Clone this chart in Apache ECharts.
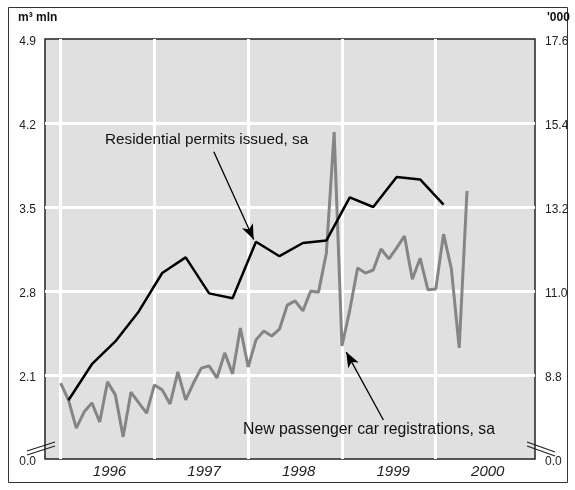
<!DOCTYPE html>
<html><head><meta charset="utf-8">
<script src="https://cdn.jsdelivr.net/npm/echarts@6/dist/echarts.min.js"></script>
<style>html,body{margin:0;padding:0;background:#fff}#c{width:575px;height:490px}</style>
</head><body><div id="c"></div>
<script>
// x = month index, 0 = January 1996
const yearLabels = ['1996', '1997', '1998', '1999', '2000'];
const yearLabelPos = [6.25, 18.35, 30.45, 42.55, 54.65];
const yearStarts = [0, 12, 24, 36, 48];

// Residential permits issued, sa (m³ mln, quarterly, left axis)
const permitMonths = [1, 4, 7, 10, 13, 16, 19, 22, 25, 28, 31, 34, 37, 40, 43, 46, 49];
const permitValues = [1.89, 2.19, 2.38, 2.63, 2.95, 3.08, 2.78, 2.74, 3.21, 3.09, 3.20, 3.22, 3.58, 3.50, 3.75, 3.73, 3.52];

// New passenger car registrations, sa ('000, monthly, right axis)
const carMonths = [0,1,2,3,4,5,6,7,8,9,10,11,12,13,14,15,16,17,18,19,20,21,22,23,24,25,26,27,28,29,30,31,32,33,34,35,36,37,38,39,40,41,42,43,44,45,46,47,48,49,50,51,52];
const carValues = [8.59, 8.15, 7.41, 7.83, 8.07, 7.57, 8.62, 8.28, 7.18, 8.35, 8.07, 7.80,
  8.54, 8.41, 8.04, 8.88, 8.15, 8.59, 8.98, 9.04, 8.72, 9.38, 8.83, 10.03,
  9.01, 9.72, 9.95, 9.82, 10.00, 10.63, 10.74, 10.48, 11.00, 10.97, 11.99, 15.16,
  9.56, 10.50, 11.60, 11.47, 11.55, 12.10, 11.84, 12.13, 12.44, 11.31, 11.86, 11.03,
  11.05, 12.49, 11.58, 9.51, 13.62];

// Axis ticks (the lowest tick is drawn as 0.0 because of the axis break)
const leftTicks = [1.4, 2.1, 2.8, 3.5, 4.2, 4.9];
const rightTicks = [6.6, 8.8, 11.0, 13.2, 15.4, 17.6];

const permitData = permitMonths.map((m, i) => [m, permitValues[i]]);
const carData = carMonths.map((m, i) => [m, carValues[i]]);

const chart = echarts.init(document.getElementById('c'), null, {renderer: 'canvas'});
const FONT = '"Liberation Sans", Arial, sans-serif';

function tickFmt(ticks) {
  return function (v) {
    if (Math.abs(v - ticks[0]) < 1e-6) return '0.0';
    return '{t|' + v.toFixed(1) + '}';
  };
}
function tickFmt0(ticks) {
  const f = tickFmt(ticks);
  return v => { const s = f(v); return s === '0.0' ? '{t|0.0}' : s; };
}
const tickRich = {t: {fontFamily: FONT, fontSize: 12, color: '#222', padding: [6, 0, 0, 0]}};

chart.setOption({
  animation: false,
  backgroundColor: '#fff',
  grid: {
    left: 45, right: 40, top: 39, bottom: 31,
    show: true, backgroundColor: '#e0e0e0', borderColor: '#222', borderWidth: 1.5, z: 0
  },
  xAxis: {
    type: 'value', min: -2, max: 60.7,
    axisLine: {show: false}, axisTick: {show: false}, splitLine: {show: false},
    axisLabel: {
      customValues: yearLabelPos,
      formatter: v => yearLabels[yearLabelPos.indexOf(v)] || '',
      fontFamily: FONT, fontSize: 15, fontStyle: 'italic', color: '#222', margin: 5
    }
  },
  yAxis: [{
    type: 'value', min: leftTicks[0], max: leftTicks[leftTicks.length - 1], interval: 0.7,
    axisLine: {show: false}, axisTick: {show: false},
    splitLine: {show: true, showMinLine: false, showMaxLine: false, lineStyle: {color: '#fff', width: 3}},
    axisLabel: {formatter: tickFmt0(leftTicks), rich: tickRich, margin: 9, verticalAlign: 'middle'}
  }, {
    type: 'value', min: rightTicks[0], max: rightTicks[rightTicks.length - 1], interval: 2.2,
    axisLine: {show: false}, axisTick: {show: false}, splitLine: {show: false},
    axisLabel: {formatter: tickFmt0(rightTicks), rich: tickRich, margin: 10, verticalAlign: 'middle'}
  }],
  series: [{
    type: 'line', data: [], yAxisIndex: 0, z: 1, silent: true,
    markLine: {
      silent: true, symbol: 'none', label: {show: false}, animation: false, z: 1,
      lineStyle: {color: '#fff', width: 3, type: 'solid'},
      data: yearStarts.map(m => ({xAxis: m}))
    }
  }, {
    name: 'New passenger car registrations, sa',
    type: 'line', data: carData, yAxisIndex: 1, z: 3, showSymbol: false,
    lineStyle: {color: '#858585', width: 3}, itemStyle: {color: '#858585'},
    markLine: {
      silent: true, label: {show: false}, animation: false, symbolSize: [9, 15],
      lineStyle: {color: '#000', width: 1.3, type: 'solid'},
      data: [[{coord: [41.3, 7.62], symbol: 'none'}, {coord: [36.55, 9.40], symbol: 'arrow'}]]
    }
  }, {
    name: 'Residential permits issued, sa',
    type: 'line', data: permitData, yAxisIndex: 0, z: 4, showSymbol: false,
    lineStyle: {color: '#000', width: 2.5}, itemStyle: {color: '#000'},
    markLine: {
      silent: true, label: {show: false}, animation: false, symbolSize: [9, 15],
      lineStyle: {color: '#000', width: 1.3, type: 'solid'},
      data: [[{coord: [19.6, 3.96], symbol: 'none'}, {coord: [24.7, 3.23], symbol: 'arrow'}]]
    }
  }],
  graphic: [
    {type: 'rect', shape: {x: 8.5, y: 7.5, width: 559, height: 475}, style: {fill: 'none', stroke: '#333', lineWidth: 1}, silent: true, z: -1},
    {type: 'text', left: 18, top: 12, style: {text: 'm³ mln', font: 'bold 12px ' + FONT, fill: '#111'}},
    {type: 'text', left: 547, top: 12, style: {text: "'000", font: 'bold 12px ' + FONT, fill: '#111'}},
    {type: 'text', left: 105, top: 132, style: {text: 'Residential permits issued, sa', font: '15.3px ' + FONT, fill: '#111'}, z: 10},
    {type: 'text', left: 243, top: 422, style: {text: 'New passenger car registrations, sa', font: '15.8px ' + FONT, fill: '#111'}, z: 10},
    {type: 'line', shape: {x1: 27, y1: 451, x2: 55, y2: 442}, style: {stroke: '#222', lineWidth: 1.2}, z: 20},
    {type: 'line', shape: {x1: 27, y1: 455, x2: 55, y2: 446}, style: {stroke: '#222', lineWidth: 1.2}, z: 20},
    {type: 'line', shape: {x1: 527, y1: 442, x2: 555, y2: 452}, style: {stroke: '#222', lineWidth: 1.2}, z: 20},
    {type: 'line', shape: {x1: 527, y1: 446, x2: 555, y2: 456}, style: {stroke: '#222', lineWidth: 1.2}, z: 20}
  ]
});
</script></body></html>
